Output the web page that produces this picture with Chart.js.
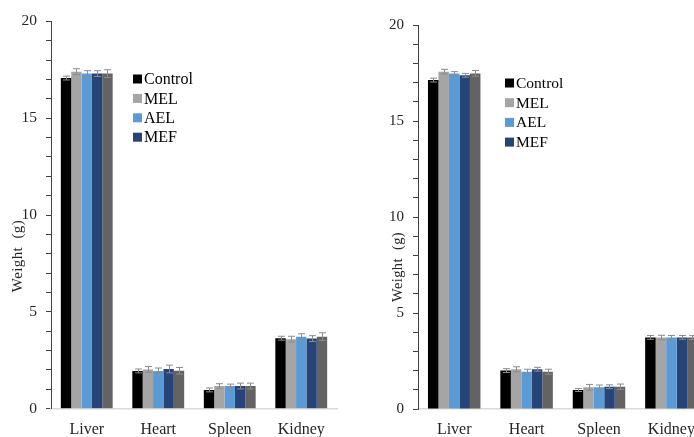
<!DOCTYPE html>
<html><head><meta charset="utf-8">
<script src="https://cdn.jsdelivr.net/npm/chart.js@4"></script>
<style>
html,body{margin:0;padding:0;background:#fff;overflow:hidden;width:694px;height:437px;position:relative;}
#c1{position:absolute;left:0;top:0;}
#c2{position:absolute;left:347px;top:0;}
</style></head><body>
<canvas id="c1" width="347" height="437"></canvas>
<canvas id="c2" width="370" height="437"></canvas>
<script>
const categories = ['Liver', 'Heart', 'Spleen', 'Kidney'];
const seriesNames = ['Control', 'MEL', 'AEL', 'MEF', 'Group 5'];
const legendCount = 4;
const yTickLabels = [0, 5, 10, 15, 20];
const yTitle = 'Weight  (g)';

// Left panel values (g)
const leftControl = [17.07, 1.95, 0.97, 3.64];
const leftMEL     = [17.40, 2.03, 1.17, 3.59];
const leftAEL     = [17.30, 1.95, 1.17, 3.72];
const leftMEF     = [17.30, 2.05, 1.17, 3.62];
const leftG5      = [17.30, 1.96, 1.17, 3.72];
// Left panel errors
const leftControlErr = [0.10, 0.10, 0.10, 0.10];
const leftMELErr     = [0.15, 0.15, 0.12, 0.15];
const leftAELErr     = [0.15, 0.15, 0.10, 0.15];
const leftMEFErr     = [0.15, 0.20, 0.15, 0.15];
const leftG5Err      = [0.20, 0.17, 0.15, 0.20];

// Right panel values (g)
const rightControl = [17.13, 2.00, 0.99, 3.73];
const rightMEL     = [17.57, 2.07, 1.13, 3.72];
const rightAEL     = [17.47, 1.94, 1.13, 3.73];
const rightMEF     = [17.38, 2.07, 1.16, 3.73];
const rightG5      = [17.48, 1.94, 1.16, 3.72];
// Right panel errors
const rightControlErr = [0.10, 0.10, 0.08, 0.10];
const rightMELErr     = [0.12, 0.13, 0.15, 0.12];
const rightAELErr     = [0.10, 0.13, 0.12, 0.10];
const rightMEFErr     = [0.10, 0.10, 0.10, 0.10];
const rightG5Err      = [0.15, 0.13, 0.14, 0.10];

const colors = ['#000000', '#a5a5a5', '#5b9bd5', '#264478', '#636363'];
const FONT = "'Liberation Serif', 'Times New Roman', serif";

const errorBarPlugin = {
  id: 'errorBars',
  afterDatasetsDraw(chart) {
    const ctx = chart.ctx, ys = chart.scales.y;
    ctx.save();
    ctx.strokeStyle = '#8c8c8c';
    ctx.lineWidth = 1;
    chart.data.datasets.forEach((ds, i) => {
      const meta = chart.getDatasetMeta(i);
      meta.data.forEach((el, j) => {
        const v = ds.data[j], e = ds.errors[j];
        const x = Math.round(el.x) + 0.5;
        const yt = ys.getPixelForValue(v + e), yb = ys.getPixelForValue(v - e);
        ctx.beginPath();
        ctx.moveTo(x, yt); ctx.lineTo(x, yb);
        ctx.moveTo(x - 3.5, yt); ctx.lineTo(x + 3.5, yt);
        ctx.moveTo(x - 3.5, yb); ctx.lineTo(x + 3.5, yb);
        ctx.stroke();
      });
    });
    ctx.restore();
  }
};

const decorPlugin = {
  id: 'decor',
  afterDraw(chart, args, o) {
    const ctx = chart.ctx;
    ctx.save();
    ctx.font = o.legendSize + 'px ' + FONT;
    ctx.textBaseline = 'middle';
    ctx.textAlign = 'left';
    for (let i = 0; i < legendCount; i++) {
      const ds = chart.data.datasets[i];
      const cy = o.legendY + i * o.legendDy;
      ctx.fillStyle = ds.backgroundColor;
      ctx.fillRect(o.legendX, cy - 4.5, 9, 9);
      ctx.fillStyle = '#000';
      ctx.fillText(ds.label, o.legendX + 11, cy + 1);
    }
    ctx.translate(o.titleX, o.titleY);
    ctx.rotate(-Math.PI / 2);
    ctx.font = o.titleSize + 'px ' + FONT;
    if ('letterSpacing' in ctx) ctx.letterSpacing = '0.4px';
    ctx.textAlign = 'center';
    ctx.textBaseline = 'middle';
    ctx.fillStyle = '#262626';
    ctx.fillText(yTitle, 0, 0);
    ctx.restore();
  }
};

function makeChart(id, series, errs, cfg) {
  const datasets = series.map((d, i) => ({
    label: seriesNames[i],
    data: d,
    errors: errs[i],
    backgroundColor: colors[i],
    borderWidth: 0,
    categoryPercentage: 0.725,
    barPercentage: 1.0
  }));
  return new Chart(document.getElementById(id), {
    type: 'bar',
    data: { labels: categories, datasets },
    plugins: [errorBarPlugin, decorPlugin],
    options: {
      responsive: false,
      animation: false,
      devicePixelRatio: 1,
      layout: { padding: { left: 0, right: cfg.padRight, top: cfg.top, bottom: 0 } },
      plugins: {
        legend: { display: false },
        tooltip: { enabled: false },
        decor: cfg.decor
      },
      scales: {
        x: {
          ticks: { font: { family: FONT, size: 16 }, color: '#262626', padding: 11 },
          grid: { display: false, drawTicks: false },
          border: { display: true, color: '#d9d9d9', width: 1.5 },
          afterFit: s => { s.height = cfg.xHeight; }
        },
        y: {
          min: 0, max: 20,
          ticks: {
            stepSize: 1, autoSkip: false,
            callback: v => yTickLabels.includes(v) ? String(v) : '',
            font: { family: FONT, size: cfg.tickSize }, color: '#262626', padding: 9
          },
          grid: { display: true, drawOnChartArea: false, drawTicks: true, tickLength: 5, color: '#404040', lineWidth: 1 },
          border: { display: true, color: '#404040', width: 1 },
          afterFit: s => { s.width = cfg.yWidth; }
        }
      }
    }
  });
}

makeChart('c1',
  [leftControl, leftMEL, leftAEL, leftMEF, leftG5],
  [leftControlErr, leftMELErr, leftAELErr, leftMEFErr, leftG5Err],
  { padRight: 10, top: 21.3, xHeight: 28.3, yWidth: 51, tickSize: 15.5,
    decor: { legendX: 133, legendY: 79, legendDy: 19.4, legendSize: 16, titleX: 18.5, titleY: 256, titleSize: 15 } });

makeChart('c2',
  [rightControl, rightMEL, rightAEL, rightMEF, rightG5],
  [rightControlErr, rightMELErr, rightAELErr, rightMEFErr, rightG5Err],
  { padRight: 9.4, top: 25, xHeight: 28, yWidth: 71, tickSize: 15,
    decor: { legendX: 158, legendY: 83, legendDy: 19.7, legendSize: 15.5, titleX: 51, titleY: 267, titleSize: 14.5 } });
</script>
</body></html>
